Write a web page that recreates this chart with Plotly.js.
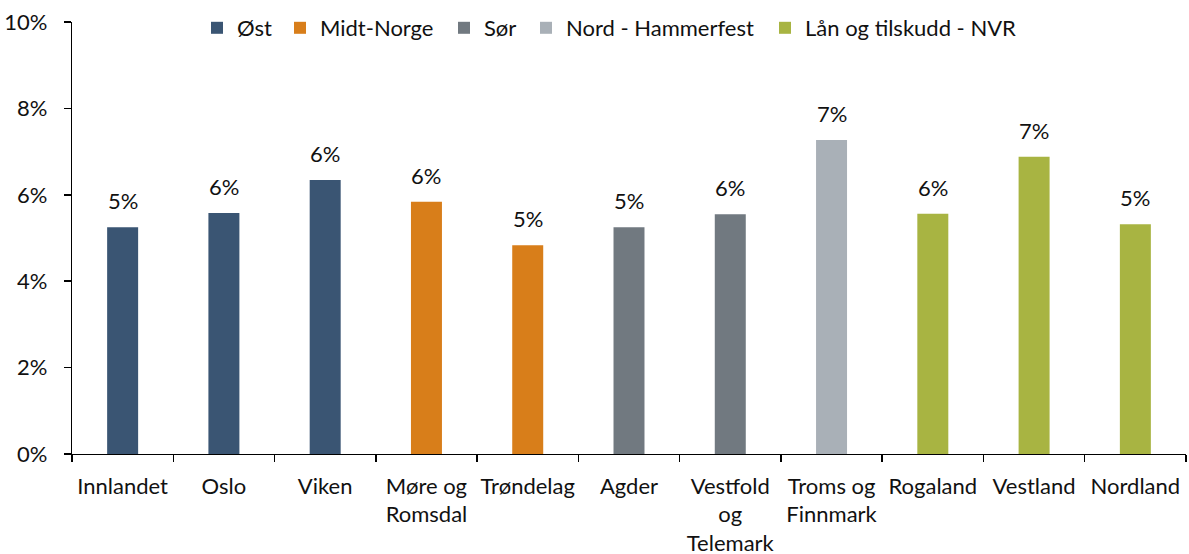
<!DOCTYPE html>
<html>
<head>
<meta charset="utf-8">
<script src="https://cdn.plot.ly/plotly-3.0.1.min.js"></script>
<style>html,body{margin:0;padding:0;background:#fff;}#chart{width:1189px;height:554px;}</style>
</head>
<body>
<div id="chart"></div>
<script>
const categories = ["Innlandet","Oslo","Viken","Møre og<br>Romsdal","Trøndelag","Agder","Vestfold<br>og<br>Telemark","Troms og<br>Finnmark","Rogaland","Vestland","Nordland"];
const seriesNames = ["Øst","Midt-Norge","Sør","Nord - Hammerfest","Lån og tilskudd - NVR"];
const seriesColors = ["#3A5573","#D87E1A","#717980","#A9B0B7","#A8B442"];
const ostCats = ["Innlandet","Oslo","Viken"];
const ostVals = [0.0525,0.0558,0.0634];
const midtCats = ["Møre og<br>Romsdal","Trøndelag"];
const midtVals = [0.0584,0.0483];
const sorCats = ["Agder","Vestfold<br>og<br>Telemark"];
const sorVals = [0.0525,0.0555];
const nordCats = ["Troms og<br>Finnmark"];
const nordVals = [0.0727];
const nvrCats = ["Rogaland","Vestland","Nordland"];
const nvrVals = [0.0556,0.0688,0.0532];

const groups = [[ostCats,ostVals],[midtCats,midtVals],[sorCats,sorVals],[nordCats,nordVals],[nvrCats,nvrVals]];
const FONT = "Lato, 'Open Sans', sans-serif";
const FS = 22;
const legendIds = ["legend","legend2","legend3","legend4","legend5"];
// legend text start positions (px)
const legendTextX = [237,320,484,566,805];
const L = 72, R = 3, T = 22, B = 100, W = 1189, H = 554;
const plotW = W - L - R, plotH = H - T - B;

const traces = groups.map((g,i)=>({
  type:"bar", name:seriesNames[i], x:g[0], y:g[1], legend:legendIds[i],
  marker:{color:seriesColors[i]}, width:0.306, hoverinfo:"skip"
}));
const annotations = [];
groups.forEach(g=>{
  g[0].forEach((c,j)=>{
    annotations.push({x:c, y:g[1][j], xref:"x", yref:"y", text:Math.round(g[1][j]*100)+"%",
      showarrow:false, yanchor:"bottom", yshift:11, font:{family:FONT,size:FS,color:"#111"}});
  });
});
const layout = {
  width:W, height:H,
  margin:{l:L,r:R,t:T,b:B},
  paper_bgcolor:"#fff", plot_bgcolor:"#fff",
  font:{family:FONT,size:FS,color:"#111"},
  barmode:"overlay",
  showlegend:true,
  xaxis:{type:"category", categoryorder:"array", categoryarray:categories, range:[-0.5,10.5],
    showline:true, linecolor:"#000", linewidth:1.3, ticks:"outside", ticklen:7, tickwidth:1.5, tickcolor:"#000", tickson:"boundaries",
    ticklabelstandoff:12, tickangle:0,
    showgrid:false, zeroline:false, tickfont:{family:FONT,size:FS,color:"#111"}, automargin:false},
  yaxis:{range:[0,0.1], dtick:0.02, tickformat:".0%", showline:true, linecolor:"#000", linewidth:1.3,
    ticks:"outside", ticklen:7, tickwidth:1.5, tickcolor:"#000", showgrid:false, zeroline:false,
    ticklabelstandoff:12,
    tickfont:{family:FONT,size:FS,color:"#111"}, automargin:false},
  annotations:annotations
};
legendIds.forEach((id,i)=>{
  layout[id] = {orientation:"h", x:(legendTextX[i]-40-L)/plotW, xanchor:"left", y:1-6/plotH, yanchor:"middle",
    font:{family:FONT,size:FS,color:"#111"}, bgcolor:"rgba(0,0,0,0)", borderwidth:0};
});
Plotly.newPlot("chart", traces, layout, {displayModeBar:false, staticPlot:true});
</script>
</body>
</html>
